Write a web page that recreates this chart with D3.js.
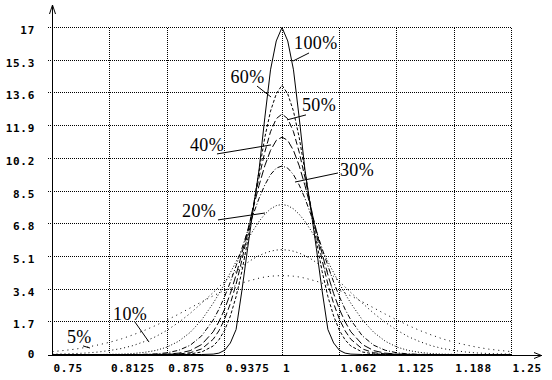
<!DOCTYPE html>
<html><head><meta charset="utf-8">
<script src="https://cdn.jsdelivr.net/npm/d3@7/dist/d3.min.js"></script>
<style>html,body{margin:0;padding:0;background:#fff;}svg{display:block;}</style>
</head><body><svg id="c" width="552" height="380"></svg>
<script>
// ---- data ----
const xValues = [0.75,0.7625,0.775,0.7875,0.8,0.8125,0.825,0.8375,0.85,0.8625,0.875,0.8875,0.9,0.9125,
 0.925,0.93125,0.9375,0.94375,0.95,0.95625,0.9625,0.96875,0.975,0.98125,0.9875,0.99375,1,
 1.00625,1.0125,1.01875,1.025,1.03125,1.0375,1.04375,1.05,1.05625,1.0625,1.06875,1.075,
 1.0875,1.1,1.1125,1.125,1.1375,1.15,1.1625,1.175,1.1875,1.2,1.2125,1.225,1.2375,1.25];

const s5 = [0.15,0.21,0.28,0.38,0.50,0.64,0.81,1.02,1.25,1.51,1.80,2.10,2.42,2.74,3.05,3.19,3.34,3.47,3.59,3.71,3.81,3.89,3.97,4.03,4.07,4.09,4.10,
 4.09,4.07,4.03,3.97,3.89,3.81,3.71,3.59,3.47,3.34,3.19,3.05,2.74,2.42,2.10,1.80,1.51,1.25,1.02,0.81,0.64,0.50,0.38,0.28,0.21,0.15];
const s10 = [0.02,0.03,0.05,0.08,0.13,0.21,0.31,0.46,0.67,0.93,1.27,1.67,2.14,2.67,3.22,3.51,3.79,4.06,4.32,4.56,4.78,4.98,5.14,5.27,5.37,5.43,5.45,
 5.43,5.37,5.27,5.14,4.98,4.78,4.56,4.32,4.06,3.79,3.51,3.22,2.67,2.14,1.67,1.27,0.93,0.67,0.46,0.31,0.21,0.13,0.08,0.05,0.03,0.02];
const s20 = [0,0,0,0,0,0.01,0.02,0.05,0.11,0.21,0.39,0.69,1.15,1.80,2.66,3.16,3.69,4.26,4.83,5.41,5.96,6.47,6.92,7.29,7.57,7.74,7.80,
 7.74,7.57,7.29,6.92,6.47,5.96,5.41,4.83,4.26,3.69,3.16,2.66,1.80,1.15,0.69,0.39,0.21,0.11,0.05,0.02,0.01,0,0,0,0,0];
const s30 = [0,0,0,0,0,0,0,0,0.01,0.03,0.09,0.22,0.48,0.97,1.79,2.35,3.01,3.77,4.61,5.50,6.41,7.30,8.12,8.81,9.35,9.69,9.80,
 9.69,9.35,8.81,8.12,7.30,6.41,5.50,4.61,3.77,3.01,2.35,1.79,0.97,0.48,0.22,0.09,0.03,0.01,0,0,0,0,0,0,0,0];
const s40 = [0,0,0,0,0,0,0,0,0,0.01,0.02,0.07,0.20,0.52,1.18,1.70,2.36,3.17,4.14,5.24,6.43,7.64,8.79,9.81,10.61,11.13,11.30,
 11.13,10.61,9.81,8.79,7.64,6.43,5.24,4.14,3.17,2.36,1.70,1.18,0.52,0.20,0.07,0.02,0.01,0,0,0,0,0,0,0,0,0];
const s50 = [0,0,0,0,0,0,0,0,0,0,0.01,0.03,0.09,0.29,0.79,1.23,1.84,2.65,3.66,4.89,6.27,7.74,9.20,10.52,11.58,12.26,12.50,
 12.26,11.58,10.52,9.20,7.74,6.27,4.89,3.66,2.65,1.84,1.23,0.79,0.29,0.09,0.03,0.01,0,0,0,0,0,0,0,0,0,0];
const s60 = [0,0,0,0,0,0,0,0,0,0,0,0.01,0.03,0.13,0.44,0.76,1.26,2.00,3.01,4.31,5.89,7.68,9.53,11.28,12.65,13.55,14.00,
 13.55,12.65,11.28,9.53,7.68,5.89,4.31,3.01,2.00,1.26,0.76,0.44,0.13,0.03,0.01,0,0,0,0,0,0,0,0,0,0,0];
const s100 = [0,0,0,0,0,0,0,0,0,0,0,0,0,0,0.02,0.07,0.22,0.60,1.30,3.30,5.50,7.60,9.60,12.30,14.80,16.30,17.00,
 16.30,14.80,12.30,9.60,7.60,5.50,3.30,1.30,0.60,0.22,0.07,0.02,0,0,0,0,0,0,0,0,0,0,0,0,0,0];

const seriesNames = ["5%","10%","20%","30%","40%","50%","60%","100%"];
const seriesValues = [s5,s10,s20,s30,s40,s50,s60,s100];

const xTickValues = [0.75,0.8125,0.875,0.9375,1,1.0625,1.125,1.1875,1.25];
const xTickLabels = ["0.75","0.8125","0.875","0.9375","1","1.062","1.125","1.188","1.25"];
const yTickValues = [0,1.7,3.4,5.1,6.8,8.5,10.2,11.9,13.6,15.3,17];
const yTickLabels = ["0","1.7","3.4","5.1","6.8","8.5","10.2","11.9","13.6","15.3","17"];

// ---- styles / layout ----
const dashes = {"5%":"1,4","10%":"1,3","20%":"1,2","30%":"5,2,1,2","40%":"8,3","50%":"6,3","60%":"3,2","100%":null};
// label annotations in data coordinates: leader from (x1,y1) to (x2,y2); text at (tx,ty)
const annotations = [
  {name:"100%", x1:1.0125, y1:15.23, x2:1.0300, y2:15.65, tx:1.0136, ty:15.86},
  {name:"60%",  x1:0.9886, y1:13.36, x2:0.9733, y2:13.93, tx:0.9444, ty:14.09},
  {name:"50%",  x1:1.0060, y1:12.17, x2:1.0267, y2:12.43, tx:1.0223, ty:12.61},
  {name:"40%",  x1:0.9886, y1:10.87, x2:0.9297, y2:10.40, tx:0.9003, ty:10.55},
  {name:"30%",  x1:1.0147, y1:8.94,  x2:1.0615, y2:9.41,  tx:1.0637, ty:9.25},
  {name:"20%",  x1:0.9820, y1:7.33,  x2:0.9308, y2:6.97,  tx:0.8916, ty:7.12},
  {name:"10%",  x1:0.8557, y1:0.62,  x2:0.8404, y2:1.66,  tx:0.8165, ty:1.77},
  {name:"5%",   x1:0.7914, y1:0.31,  x2:0.7838, y2:0.42,  tx:0.7663, ty:0.57}
];

const svg = d3.select("#c");
const x = d3.scaleLinear().domain([0.75,1.25]).range([52,511]);
const y = d3.scaleLinear().domain([0,17]).range([354,27]);
const px = v => Math.round(x(v)) + 0.5;
const py = v => Math.round(y(v)) + 0.5;

// grid (crisp dotted lines)
const grid = svg.append("g").attr("stroke","#000").attr("stroke-dasharray","1,1").attr("shape-rendering","crispEdges");
grid.selectAll("line.h").data(yTickValues.slice(1)).join("line").attr("class","h")
  .attr("x1",48).attr("x2",px(1.25)).attr("y1",d=>py(d)).attr("y2",d=>py(d));
grid.selectAll("line.v").data(xTickValues.slice(1)).join("line").attr("class","v")
  .attr("x1",d=>px(d)).attr("x2",d=>px(d)).attr("y1",py(17)).attr("y2",py(0));

// curves
const line = d3.line().x((d,i)=>x(xValues[i])+0.5).y(d=>y(d)+0.5);
svg.append("g").selectAll("path").data(seriesValues).join("path")
  .attr("d", d=>line(d))
  .attr("fill","none").attr("stroke","#000").attr("stroke-width",1)
  .attr("stroke-dasharray",(d,i)=>dashes[seriesNames[i]]);

// axes
const ax = svg.append("g").attr("stroke","#000").attr("fill","none");
ax.append("line").attr("x1",px(0.75)).attr("y1",py(0)+1).attr("x2",px(0.75)).attr("y2",5).attr("shape-rendering","crispEdges");
ax.append("path").attr("d",`M${px(0.75)-3},14L${px(0.75)},5L${px(0.75)+3},14`);
ax.append("line").attr("x1",48).attr("y1",py(0)+1).attr("x2",541.5).attr("y2",py(0)+1).attr("shape-rendering","crispEdges");
ax.append("path").attr("d",`M534,${py(0)-2}L541.5,${py(0)+1}L534,${py(0)+4}`);

// tick labels via d3 axes
const xl = svg.append("g").attr("transform","translate(0,354)")
  .call(d3.axisBottom(x).tickValues(xTickValues).tickSize(0).tickFormat((d,i)=>xTickLabels[i]));
xl.select(".domain").remove();
xl.selectAll(".tick text").attr("y",18).attr("dy",null).attr("x",1).attr("text-anchor","start")
  .attr("font-family","'DejaVu Sans Mono', monospace").attr("font-weight","bold").attr("font-size","11px")
  .attr("letter-spacing","0.7px").attr("fill","#000");

const yl = svg.append("g").attr("transform","translate(35,0)")
  .call(d3.axisLeft(y).tickValues(yTickValues).tickSize(0).tickFormat((d,i)=>yTickLabels[i]));
yl.select(".domain").remove();
yl.selectAll(".tick text").attr("x",0).attr("dy",null).attr("y",d=> d===0 ? 3 : 6.5)
  .attr("text-anchor","end")
  .attr("font-family","'DejaVu Sans Mono', monospace").attr("font-weight","bold").attr("font-size","11px")
  .attr("letter-spacing","0.7px").attr("fill","#000");

// annotations
const an = svg.append("g");
an.selectAll("line").data(annotations).join("line")
  .attr("x1",d=>x(d.x1)).attr("y1",d=>y(d.y1)).attr("x2",d=>x(d.x2)).attr("y2",d=>y(d.y2))
  .attr("stroke","#000").attr("stroke-width",1);
an.selectAll("text").data(annotations).join("text")
  .attr("x",d=>x(d.tx)).attr("y",d=>y(d.ty)).text(d=>d.name)
  .attr("font-family","'Liberation Serif', serif").attr("font-size","18px")
  .attr("letter-spacing","0.4px").attr("fill","#000");
</script></body></html>
